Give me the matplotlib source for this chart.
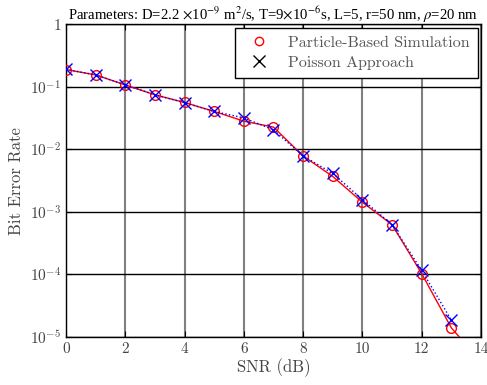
import matplotlib
matplotlib.use("Agg")
import matplotlib.pyplot as plt
from matplotlib.lines import Line2D
from matplotlib.ticker import FixedLocator, FixedFormatter, NullLocator
import numpy as np

plt.rcParams["font.family"] = ["cmr10", "DejaVu Serif"]
plt.rcParams["mathtext.fontset"] = "cm"
plt.rcParams["axes.unicode_minus"] = False

snr_db = [0, 1, 2, 3, 4, 5, 6, 7, 8, 9, 10, 11, 12, 13, 14]
ber_sim = [0.190, 0.156, 0.108, 0.075, 0.0565, 0.0406, 0.0284, 0.0228,
           0.00787, 0.0037, 0.00143, 0.000626, 1.03e-4, 1.4e-5, 4e-6]
ber_poisson = [0.192, 0.156, 0.108, 0.075, 0.0560, 0.0406, 0.032, 0.0206,
               0.00787, 0.00414, 0.00158, 0.000626, 1.16e-4, 1.86e-5, np.nan]

xticks = [0, 2, 4, 6, 8, 10, 12, 14]
yticks = [1e-5, 1e-4, 1e-3, 1e-2, 1e-1, 1]
ytick_labels = [r"$10^{-5}$", r"$10^{-4}$", r"$10^{-3}$", r"$10^{-2}$", r"$10^{-1}$", "1"]

fig = plt.figure(figsize=(4.87, 3.85), dpi=100)
ax = fig.add_axes([0.1355, 0.1247, 0.8522, 0.8117])

ax.plot(snr_db, ber_sim, "-", color="red", lw=1.0, marker="o", ms=7,
        mfc="none", mec="red", mew=1.0, zorder=3)
ax.plot(snr_db, ber_poisson, ":", color="blue", lw=1.0, marker="x", ms=8,
        mec="blue", mew=1.0, zorder=4)

ax.set_yscale("log")
ax.set_xlim(0, 14)
ax.set_ylim(1e-5, 1)
ax.xaxis.set_major_locator(FixedLocator(xticks))
ax.yaxis.set_major_locator(FixedLocator(yticks))
ax.yaxis.set_major_formatter(FixedFormatter(ytick_labels))
ax.yaxis.set_minor_locator(NullLocator())
ax.tick_params(direction="in", top=True, right=True, labelsize=11,
               labelcolor="#444444", length=4)

ax.xaxis.grid(True, color="#808080", lw=1.5)
ax.yaxis.grid(True, color="black", lw=1.0)
ax.set_axisbelow(True)
for s in ax.spines.values():
    s.set_linewidth(1.0)

ax.set_xlabel("SNR (dB)", fontsize=12, color="#444444", labelpad=2)
ax.set_ylabel("Bit Error Rate", fontsize=12, color="#444444", labelpad=4)

ax.set_title(r"Parameters: D=2.2 $\times$10$^{-9}$ m$^2$/s, T=9$\times$10$^{-6}$s, "
             r"L=5, r=50 nm, $\rho$=20 nm",
             fontsize=10.6, family="Liberation Serif", math_fontfamily="stix",
             pad=3)

handles = [
    Line2D([], [], ls="none", marker="o", ms=6, mfc="none", mec="red", mew=1.0),
    Line2D([], [], ls="none", marker="x", ms=9, mec="black", mew=1.0),
]
leg = ax.legend(handles, ["Particle-Based Simulation", "Poisson Approach"],
                loc="upper right", fontsize=11.5, fancybox=False, framealpha=1,
                edgecolor="black", borderaxespad=0.2, handletextpad=0.8,
                labelspacing=0.35, borderpad=0.5)
for t in leg.get_texts():
    t.set_color("#555555")
leg.get_frame().set_linewidth(1.0)

fig.savefig("out.png", dpi=100)
